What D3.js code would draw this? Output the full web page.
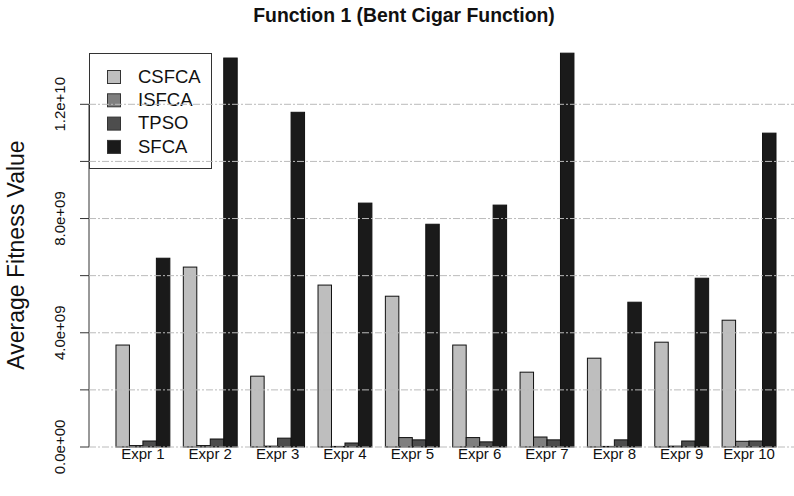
<!DOCTYPE html>
<html><head><meta charset="utf-8">
<script src="https://cdn.jsdelivr.net/npm/d3@7"></script>
<style>body{margin:0;background:#fff}svg{display:block;font-family:"Liberation Sans",Arial,sans-serif}</style>
</head><body><svg id="c" width="794" height="496"></svg>
<script>
const categories = ["Expr 1","Expr 2","Expr 3","Expr 4","Expr 5","Expr 6","Expr 7","Expr 8","Expr 9","Expr 10"];
const seriesNames = ["CSFCA","ISFCA","TPSO","SFCA"];
const CSFCA = [3.57e9, 6.30e9, 2.48e9, 5.67e9, 5.28e9, 3.57e9, 2.62e9, 3.11e9, 3.67e9, 4.44e9];
const ISFCA = [0.05e9, 0.05e9, 0.03e9, 0.02e9, 0.33e9, 0.33e9, 0.35e9, 0.02e9, 0.03e9, 0.20e9];
const TPSO  = [0.21e9, 0.28e9, 0.31e9, 0.14e9, 0.25e9, 0.18e9, 0.25e9, 0.25e9, 0.21e9, 0.21e9];
const SFCA  = [6.61e9, 13.62e9, 11.72e9, 8.54e9, 7.80e9, 8.47e9, 13.79e9, 5.07e9, 5.91e9, 10.99e9];
const yTicks = [0, 2e9, 4e9, 6e9, 8e9, 1e10, 1.2e10];
const yTickLabels = ["0.0e+00","","4.0e+09","","8.0e+09","","1.2e+10"];
const colors = ["#bebebe","#7f7f7f","#4d4d4d","#1a1a1a"];
const series = [CSFCA, ISFCA, TPSO, SFCA];

const svg = d3.select("#c");
const x = d3.scaleLinear().domain([0, 50]).range([102.5, 776]);
const y = d3.scaleLinear().domain([0, 1.2e10]).range([447, 104.3]);
const axisX = 89;

categories.forEach((c, i) => {
  series.forEach((s, j) => {
    const u0 = i * 5 + 1 + j;
    svg.append("rect")
      .attr("x", x(u0)).attr("width", x(u0 + 1) - x(u0))
      .attr("y", y(s[i])).attr("height", y(0) - y(s[i]))
      .attr("fill", colors[j]).attr("stroke", "#111").attr("stroke-width", 1);
  });
  svg.append("text").attr("x", x(i * 5 + 3)).attr("y", 455)
    .attr("text-anchor", "middle").attr("font-size", 15).attr("dominant-baseline","middle")
    .attr("fill", "#111").text(c);
});

svg.append("line").attr("x1", axisX).attr("x2", axisX).attr("y1", y(0)).attr("y2", y(1.2e10))
  .attr("stroke", "#333").attr("stroke-width", 1);
yTicks.forEach((t, k) => {
  svg.append("line").attr("x1", axisX - 9).attr("x2", axisX).attr("y1", y(t)).attr("y2", y(t))
    .attr("stroke", "#333");
  if (yTickLabels[k]) {
    svg.append("text").attr("transform", `translate(61,${y(t)}) rotate(-90)`)
      .attr("text-anchor", "middle").attr("dominant-baseline", "middle")
      .attr("font-size", 15).attr("fill", "#111").text(yTickLabels[k]);
  }
});

const lg = svg.append("g");
lg.append("rect").attr("x", 89.5).attr("y", 53.5).attr("width", 122).attr("height", 115)
  .attr("fill", "#fff").attr("stroke", "#333");
seriesNames.forEach((n, j) => {
  const cy = 77 + j * 23.3;
  lg.append("rect").attr("x", 107.5).attr("y", cy - 6.5).attr("width", 13).attr("height", 13)
    .attr("fill", colors[j]).attr("stroke", "#333");
  lg.append("text").attr("x", 138).attr("y", cy + 1).attr("dominant-baseline", "middle")
    .attr("font-size", 18.5).attr("fill", "#111").text(n);
});

yTicks.forEach(t => {
  svg.append("line").attr("x1", axisX).attr("x2", 794).attr("y1", y(t)).attr("y2", y(t))
    .attr("stroke", "#bbb").attr("stroke-width", 1).attr("stroke-dasharray", "7,2,2,2");
});

svg.append("text").attr("x", 404).attr("y", 17).attr("text-anchor", "middle")
  .attr("dominant-baseline", "middle")
  .attr("font-size", 19.4).attr("font-weight", "bold").attr("fill", "#111")
  .text("Function 1 (Bent Cigar Function)");
svg.append("text").attr("transform", "translate(18,255) rotate(-90)")
  .attr("text-anchor", "middle").attr("dominant-baseline", "middle")
  .attr("font-size", 23).attr("fill", "#111").text("Average Fitness Value");
</script></body></html>
